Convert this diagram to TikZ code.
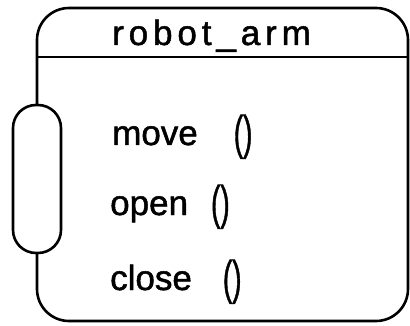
\documentclass[tikz,border=0pt]{standalone}
\usepackage{fontspec}
\usepackage{graphicx}
\setmainfont[FakeBold=1.4]{Liberation Sans}
\newfontfamily\headfont[LetterSpace=14,FakeBold=1.4]{Liberation Sans}
\newcommand{\callparens}{\raisebox{-4pt}{\scalebox{0.8}[1.35]{()}}}

\begin{document}
\begin{tikzpicture}[x=1pt,y=-1pt]
  \tikzset{outline/.style={line width=2.6pt, line join=round}};
  \tikzset{op/.style={anchor=base west, inner sep=0pt, font=\fontsize{35}{40}\selectfont}};
  \useasboundingbox (0,0) rectangle (410,326);

  % class box, left side left open for the port
  \draw [outline, rounded corners=32pt] (37,105) -- (37,8) -- (408,8) -- (408,321) -- (37,321) -- (37,253);
  \draw [outline] (37,57) -- (408,57);
  \draw [outline, rounded corners=23pt] (13,105) rectangle (61,253);

  \node [op, font=\headfont\fontsize{35}{40}\selectfont] (name) at (112,45) {robot\_arm};

  \node [op] (move)  at (112,145) {move\hspace{36pt}\callparens};
  \node [op] (open)  at (110,215) {open\hspace{23pt}\callparens};
  \node [op] (close) at (110,290) {close\hspace{31pt}\callparens};
\end{tikzpicture}
\end{document}
